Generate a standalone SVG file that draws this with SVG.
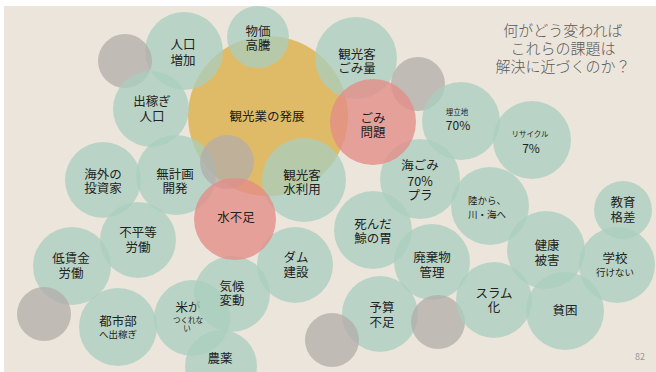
<svg xmlns="http://www.w3.org/2000/svg" width="656" height="372" viewBox="0 0 656 372">
<defs>
<filter id="soft" x="-10%" y="-10%" width="120%" height="120%"><feGaussianBlur stdDeviation="0.7"/></filter>
</defs>
<style>
circle{filter:url(#soft)}
.t{fill:#a9cfbf;opacity:.75}
.g{fill:#b3adaa;opacity:.75}
.o{fill:#dfb658;opacity:.88}
.r{fill:#e48d88;opacity:.78}
text{font-family:"Noto Sans CJK JP","Noto Sans",sans-serif;fill:#222;text-anchor:middle;font-size:12.5px}
.s{font-size:9.5px}
.xs{font-size:7.5px}
.ttl{font-size:15px;fill:#5a5a5a;font-weight:300}
</style>
<rect x="0" y="0" width="656" height="372" fill="#ffffff"/>
<rect x="4" y="6" width="652" height="366" fill="#ece5db"/>
<g id="tourism-dev"><circle class="o" cx="268" cy="116" r="80"/><text x="267" y="121">観光業の発展</text></g>
<g id="pop-increase"><circle class="t" cx="184" cy="51" r="39"/><text x="183" y="49">人口</text><text x="183" y="65">増加</text></g>
<g id="gray1"><circle class="g" cx="125" cy="61" r="27"/></g>
<g id="migrant-pop"><circle class="t" cx="151" cy="109" r="38"/><text x="152" y="106">出稼ぎ</text><text x="152" y="121">人口</text></g>
<g id="prices"><circle class="t" cx="258" cy="37" r="31"/><text x="258" y="36">物価</text><text x="258" y="50">高騰</text></g>
<g id="tourist-waste"><circle class="t" cx="356" cy="58" r="41"/><text x="357" y="59">観光客</text><text x="357" y="73">ごみ量</text></g>
<g id="gray2"><circle class="g" cx="418" cy="84" r="27"/></g>
<g id="landfill"><circle class="t" cx="461" cy="121" r="39"/><text class="xs" x="457" y="115">埋立地</text><text x="458" y="130" style="font-size:12px">70%</text></g>
<g id="recycle"><circle class="t" cx="532" cy="140" r="39"/><text class="xs" x="530" y="137">リサイクル</text><text x="531" y="153" style="font-size:12px">7%</text></g>
<g id="overseas-investor"><circle class="t" cx="103" cy="180" r="38"/><text x="103" y="179">海外の</text><text x="103" y="193">投資家</text></g>
<g id="unplanned-dev"><circle class="t" cx="176" cy="175" r="40"/><text x="175" y="179">無計画</text><text x="175" y="193">開発</text></g>
<g id="gray3"><circle class="g" cx="227" cy="162" r="27"/></g>
<g id="tourist-water"><circle class="t" cx="304" cy="180" r="42"/><text x="302" y="180">観光客</text><text x="302" y="194">水利用</text></g>
<g id="sea-waste"><circle class="t" cx="420" cy="179" r="40"/><text x="420" y="170">海ごみ</text><text x="420" y="186">70%</text><text x="420" y="200">プラ</text></g>
<g id="land-river"><circle class="t" cx="490" cy="206" r="39"/><text class="s" x="487" y="204">陸から、</text><text class="s" x="487" y="218">川・海へ</text></g>
<g id="unequal-labor"><circle class="t" cx="138" cy="240" r="38"/><text x="138" y="237">不平等</text><text x="138" y="252">労働</text></g>
<g id="low-wage"><circle class="t" cx="72" cy="266" r="39"/><text x="71" y="263">低賃金</text><text x="71" y="278">労働</text></g>
<g id="gray4"><circle class="g" cx="44" cy="314" r="27"/></g>
<g id="urban-migrant"><circle class="t" cx="118" cy="327" r="39"/><text x="118" y="326">都市部</text><text class="s" x="118" y="338">へ出稼ぎ</text></g>
<g id="rice"><circle class="t" cx="192" cy="318" r="38"/><text x="188" y="312">米が</text><text class="xs" x="188" y="323">つくれな</text><text class="xs" x="187" y="331">い</text></g>
<g id="climate"><circle class="t" cx="232" cy="294" r="38"/><text x="232" y="291">気候</text><text x="232" y="305">変動</text></g>
<g id="pesticide"><circle class="t" cx="221" cy="366" r="36"/><text x="220" y="363">農薬</text></g>
<g id="dam"><circle class="t" cx="295" cy="265" r="38"/><text x="296" y="262">ダム</text><text x="296" y="277">建設</text></g>
<g id="whale"><circle class="t" cx="373" cy="230" r="39"/><text x="373" y="229">死んだ</text><text x="373" y="243">鯨の胃</text></g>
<g id="waste-mgmt"><circle class="t" cx="432" cy="262" r="38"/><text x="432" y="262">廃棄物</text><text x="432" y="277">管理</text></g>
<g id="budget"><circle class="t" cx="380" cy="314" r="38"/><text x="382" y="312">予算</text><text x="382" y="327">不足</text></g>
<g id="gray5"><circle class="g" cx="332" cy="340" r="27"/></g>
<g id="gray6"><circle class="g" cx="438" cy="322" r="27"/></g>
<g id="slum"><circle class="t" cx="494" cy="300" r="38"/><text x="494" y="298">スラム</text><text x="494" y="312">化</text></g>
<g id="health"><circle class="t" cx="546" cy="250" r="39"/><text x="547" y="250">健康</text><text x="547" y="265">被害</text></g>
<g id="poverty"><circle class="t" cx="565" cy="311" r="39"/><text x="565" y="315">貧困</text></g>
<g id="school"><circle class="t" cx="617" cy="265" r="38"/><text x="615" y="263">学校</text><text class="s" x="615" y="276">行けない</text></g>
<g id="edu-gap"><circle class="t" cx="623" cy="210" r="29"/><text x="623" y="207">教育</text><text x="623" y="222">格差</text></g>
<g id="garbage-problem"><circle class="r" cx="373" cy="122" r="43"/><text x="373" y="123">ごみ</text><text x="373" y="137">問題</text></g>
<g id="water-shortage"><circle class="r" cx="235" cy="219" r="41"/><text x="236" y="222">水不足</text></g>
<g id="title"><text class="ttl" x="563" y="36">何がどう変われば</text><text class="ttl" x="563" y="54">これらの課題は</text><text class="ttl" x="563" y="72">解決に近づくのか？</text></g>
<text x="640" y="360" style="font-size:9px;fill:#999">82</text>
</svg>
